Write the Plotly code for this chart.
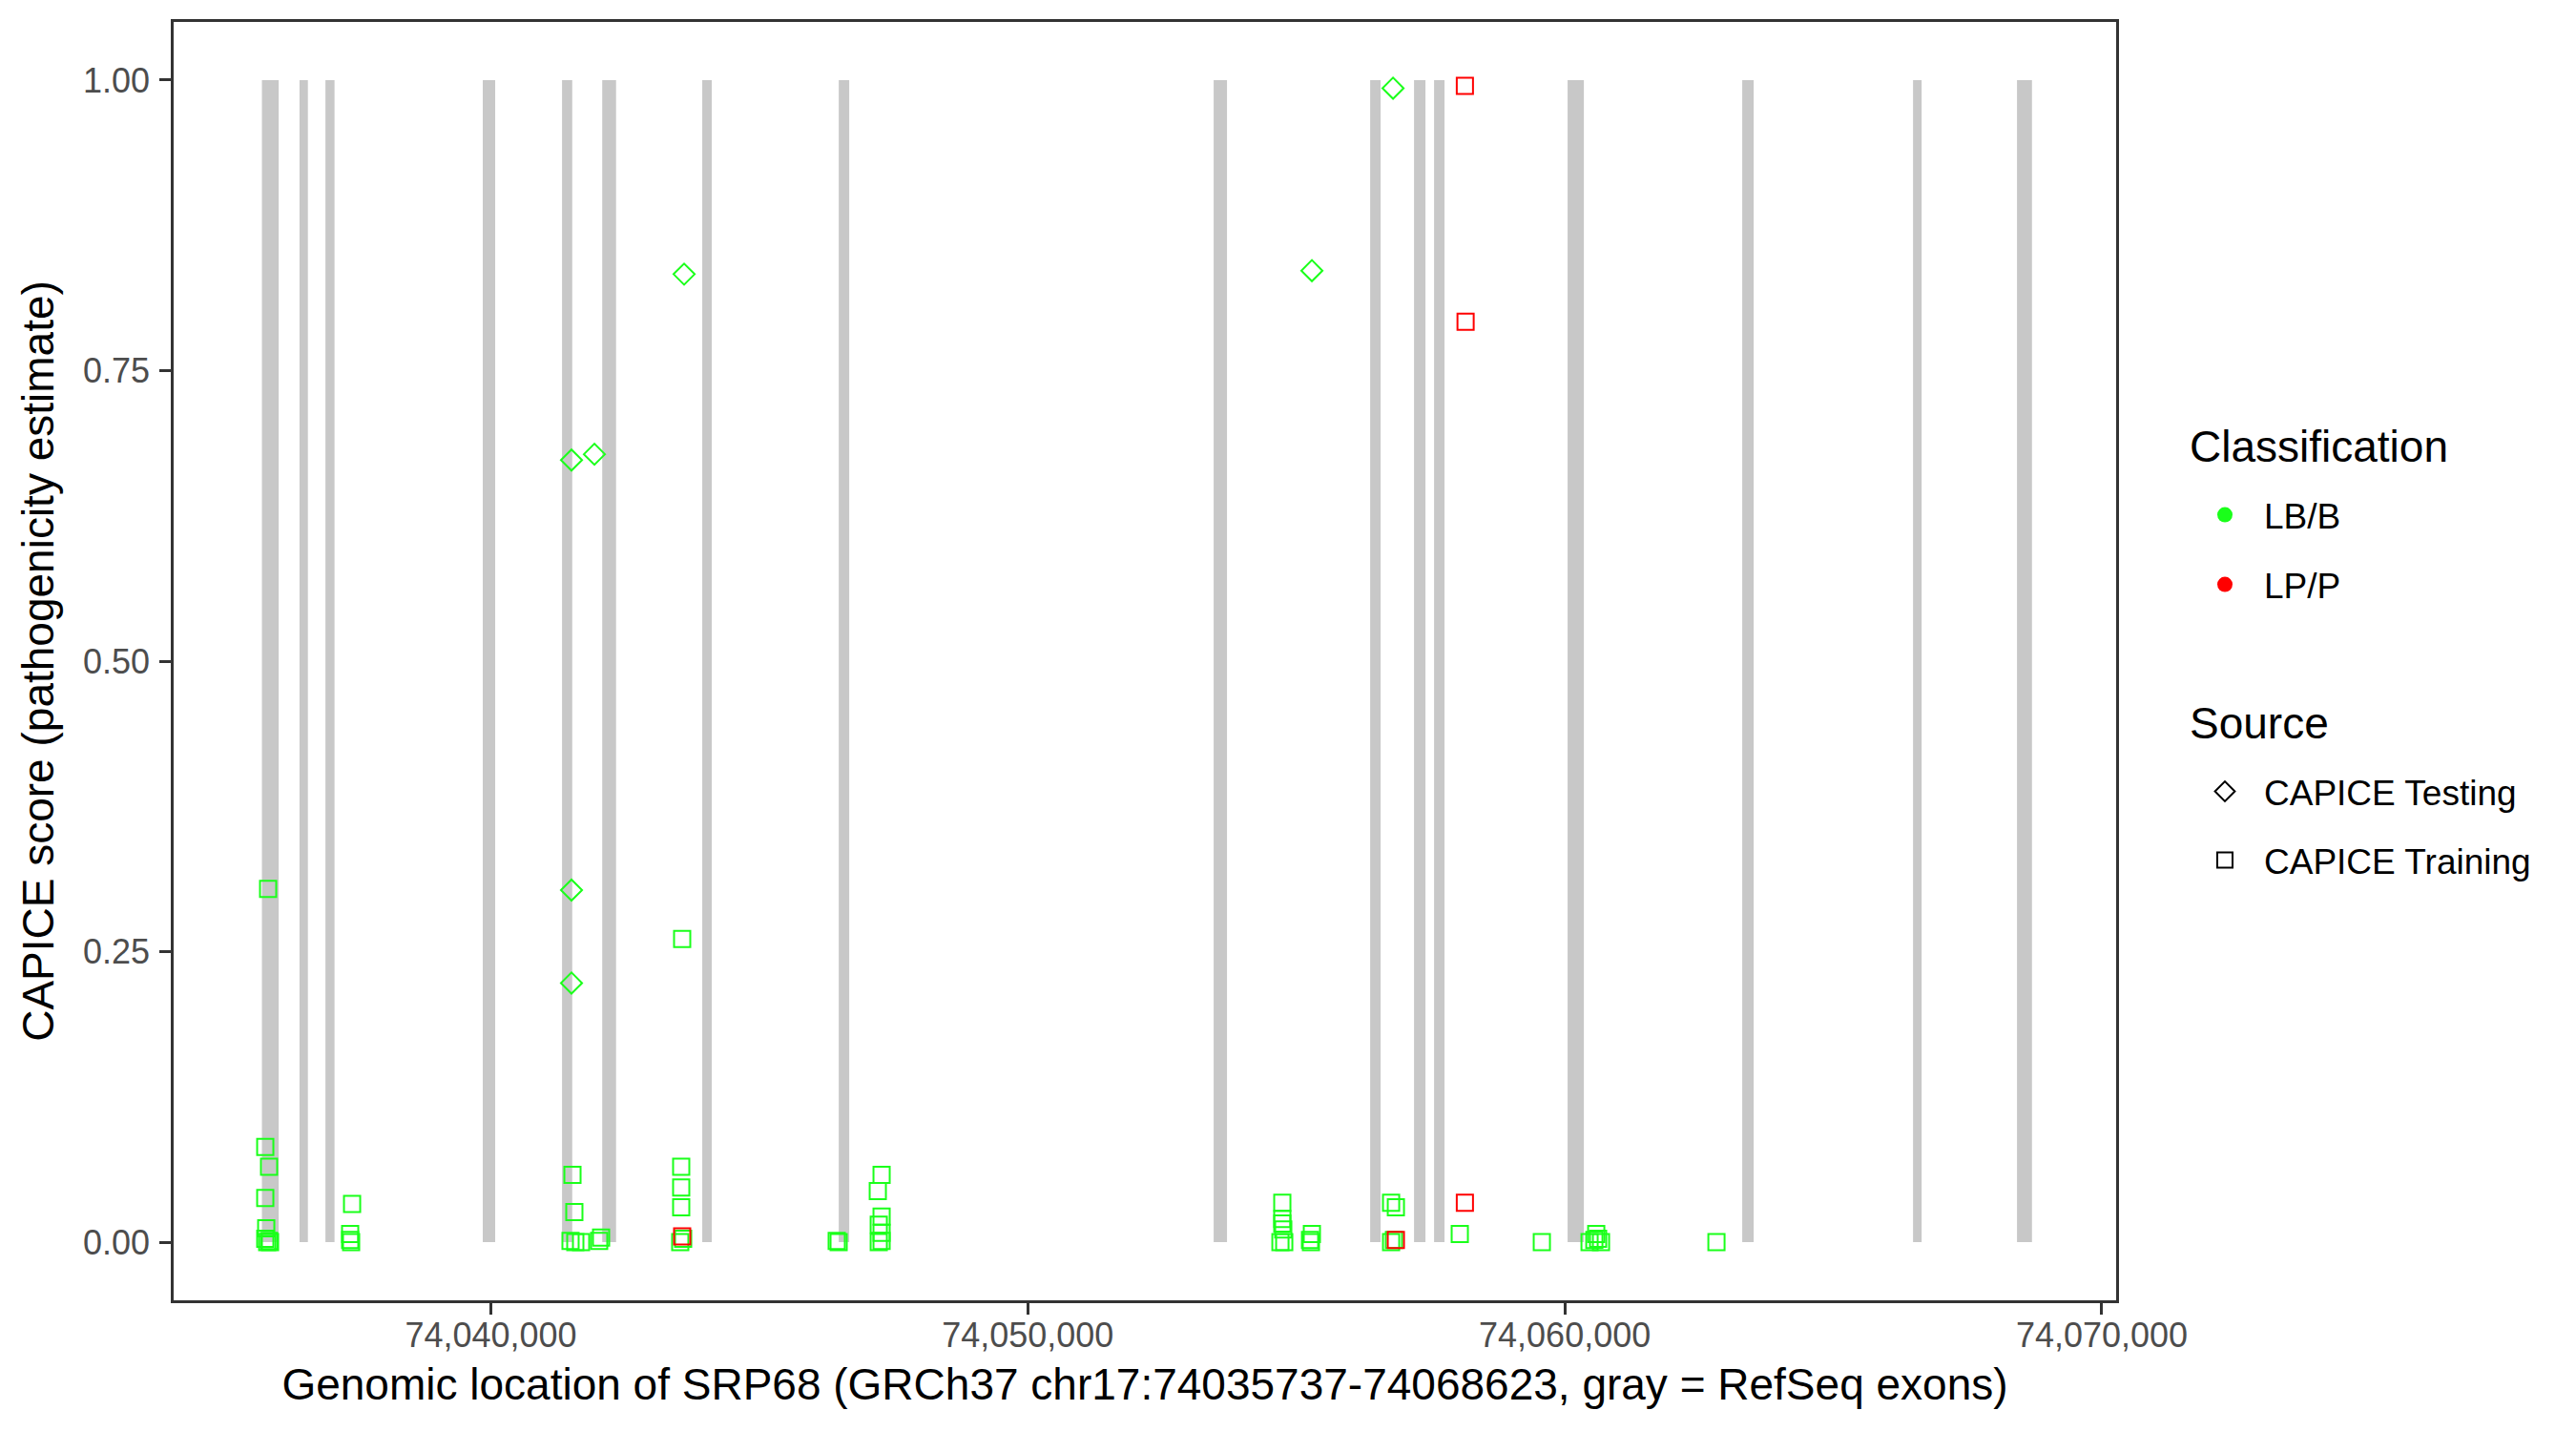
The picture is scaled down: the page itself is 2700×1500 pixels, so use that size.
import plotly.graph_objects as go

# RefSeq exons (bp)
exon_start = [74035737, 74036437, 74036920, 74039850, 74041326, 74042074, 74043937, 74046479,
              74053461, 74056375, 74057192, 74057565, 74060052, 74063304, 74066485, 74068421]
exon_end = [74036049, 74036593, 74037089, 74040081, 74041516, 74042332, 74044114, 74046674,
            74053709, 74056570, 74057405, 74057760, 74060355, 74063517, 74066645, 74068700]

# CAPICE Testing, LB/B
test_lbb_pos = [74041502, 74041929, 74041502, 74041502, 74043599, 74055290, 74056801]
test_lbb_score = [0.673, 0.678, 0.303, 0.223, 0.833, 0.836, 0.993]

# CAPICE Training, LB/B
train_lbb_pos = [74035852, 74035799, 74035870, 74035799, 74035817, 74035799, 74035870, 74035888, 74035835,
                 74037416, 74037380, 74037380, 74037398,
                 74041520, 74041555, 74041484, 74041573, 74041680, 74042053, 74042017,
                 74043563, 74043545, 74043545, 74043545, 74043527, 74043581,
                 74046477, 74046441,
                 74047277, 74047206, 74047277, 74047224, 74047277, 74047277, 74047224,
                 74054739, 74054739, 74054739, 74054757, 74054775, 74054704,
                 74055290, 74055255, 74055272,
                 74056765, 74056854, 74056765, 74056818,
                 74058044, 74059572,
                 74060461, 74060585, 74060674, 74060550, 74060620,
                 74062824]
train_lbb_score = [0.304, 0.082, 0.065, 0.038, 0.012, 0.003, 0.001, 0.000, 0.000,
                   0.033, 0.007, 0.002, 0.000,
                   0.058, 0.026, 0.001, 0.000, 0.000, 0.004, 0.001,
                   0.261, 0.065, 0.047, 0.030, 0.000, 0.003,
                   0.000, 0.001,
                   0.058, 0.044, 0.022, 0.015, 0.008, 0.001, 0.000,
                   0.034, 0.020, 0.016, 0.011, 0.000, 0.000,
                   0.007, 0.002, 0.000,
                   0.034, 0.030, 0.000, 0.002,
                   0.007, 0.000,
                   0.000, 0.007, 0.000, 0.002, 0.003,
                   0.000]

# CAPICE Training, LP/P
train_lpp_pos = [74043563, 74056854, 74058139, 74058152, 74058139]
train_lpp_score = [0.005, 0.002, 0.995, 0.792, 0.034]

x_ticks = [74040000, 74050000, 74060000, 74070000]
x_ticklabels = ["74,040,000", "74,050,000", "74,060,000", "74,070,000"]
y_ticks = [0, 0.25, 0.5, 0.75, 1.0]
y_ticklabels = ["0.00", "0.25", "0.50", "0.75", "1.00"]

GREEN = "#1AFF1A"
RED = "#FF0000"
FONT = "Liberation Sans, Arial, sans-serif"

fig = go.Figure()

for s, e in zip(exon_start, exon_end):
    fig.add_shape(type="rect", xref="x", yref="y", x0=s, x1=e, y0=0, y1=1,
                  fillcolor="#C8C8C8", line_width=0, layer="below")

fig.add_trace(go.Scatter(x=train_lbb_pos, y=train_lbb_score, mode="markers", showlegend=False,
                         marker=dict(symbol="square-open", size=17, color=GREEN, line=dict(width=2, color=GREEN))))
fig.add_trace(go.Scatter(x=test_lbb_pos, y=test_lbb_score, mode="markers", showlegend=False,
                         marker=dict(symbol="diamond-open", size=17, color=GREEN, line=dict(width=2, color=GREEN))))
fig.add_trace(go.Scatter(x=train_lpp_pos, y=train_lpp_score, mode="markers", showlegend=False,
                         marker=dict(symbol="square-open", size=17, color=RED, line=dict(width=2, color=RED))))

# legend entries
fig.add_trace(go.Scatter(x=[None], y=[None], mode="markers", name="LB/B", legend="legend",
                         marker=dict(symbol="circle", size=20, color=GREEN)))
fig.add_trace(go.Scatter(x=[None], y=[None], mode="markers", name="LP/P", legend="legend2",
                         marker=dict(symbol="circle", size=20, color=RED)))
fig.add_trace(go.Scatter(x=[None], y=[None], mode="markers", name="CAPICE Testing", legend="legend3",
                         marker=dict(symbol="diamond-open", size=20, color="black", line=dict(width=2, color="black"))))
fig.add_trace(go.Scatter(x=[None], y=[None], mode="markers", name="CAPICE Training", legend="legend4",
                         marker=dict(symbol="square-open", size=20, color="black", line=dict(width=2, color="black"))))

# plot area in screen pixels (page has an 8px body offset)
L, T, B, R = 182, 23, 1363, 2218
OFF = 8
H = B - T


def py(px):
    return (B - px) / H


def px_x(px):
    return (px - L) / (R - L)


leg_common = dict(xanchor="left", yanchor="top", bgcolor="rgba(0,0,0,0)", borderwidth=0,
                  font=dict(family=FONT, size=37, color="black"), itemwidth=72, itemsizing="trace")
LEGX = px_x(2291)

fig.update_layout(
    width=2700, height=1500,
    margin=dict(l=L - OFF, r=2700 - R + OFF, t=T - OFF, b=1500 - B + OFF),
    plot_bgcolor="white", paper_bgcolor="white",
    font=dict(family=FONT, color="black"),
    legend=dict(**leg_common, x=LEGX, y=py(509)),
    legend2=dict(**leg_common, x=LEGX, y=py(582)),
    legend3=dict(**leg_common, x=LEGX, y=py(799)),
    legend4=dict(**leg_common, x=LEGX, y=py(871)),
    annotations=[
        dict(text="Classification", xref="paper", yref="paper", x=px_x(2293), y=py(468),
             xanchor="left", yanchor="middle", showarrow=False,
             font=dict(family=FONT, size=46, color="black")),
        dict(text="Source", xref="paper", yref="paper", x=px_x(2293), y=py(758),
             xanchor="left", yanchor="middle", showarrow=False,
             font=dict(family=FONT, size=46, color="black")),
    ],
    xaxis=dict(range=[74034093, 74070267], tickvals=x_ticks, ticktext=x_ticklabels,
               showgrid=False, zeroline=False, showline=True, mirror=True, linecolor="#333333", linewidth=2.5,
               ticks="outside", ticklen=12, tickwidth=2.5, tickcolor="#333333", ticklabelstandoff=-9,
               tickfont=dict(family=FONT, size=36, color="#4D4D4D"),
               title=dict(text="Genomic location of SRP68 (GRCh37 chr17:74035737-74068623, gray = RefSeq exons)",
                          font=dict(family=FONT, size=46, color="black"), standoff=16)),
    yaxis=dict(range=[-0.05, 1.05], tickvals=y_ticks, ticktext=y_ticklabels,
               showgrid=False, zeroline=False, showline=True, mirror=True, linecolor="#333333", linewidth=2.5,
               ticks="outside", ticklen=12, tickwidth=2.5, tickcolor="#333333", ticklabelstandoff=3,
               tickfont=dict(family=FONT, size=36, color="#4D4D4D"),
               title=dict(text="CAPICE score (pathogenicity estimate)",
                          font=dict(family=FONT, size=46, color="black"), standoff=16)),
)

fig.write_html("out.html")
